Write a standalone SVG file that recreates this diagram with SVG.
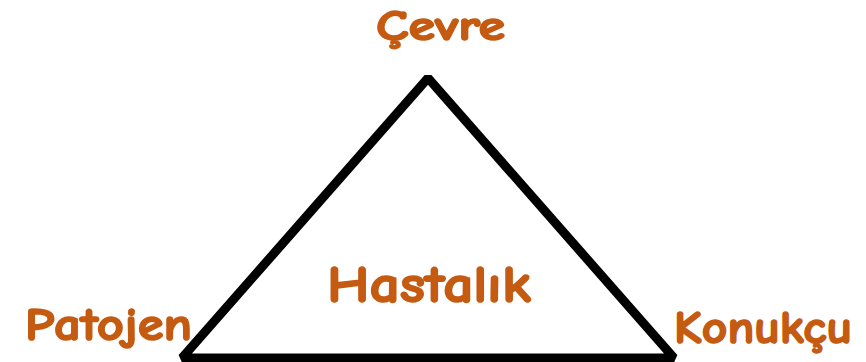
<svg xmlns="http://www.w3.org/2000/svg" width="866" height="362" viewBox="0 0 866 362">
<style>
.lbl{font-family:"Comic Neue","DejaVu Sans","Liberation Sans",sans-serif;font-weight:bold;fill:#C55A11;stroke:#C55A11;stroke-width:1.6;stroke-linejoin:round;}
.edge{fill:none;stroke:#000;stroke-width:9;stroke-linejoin:bevel;}
</style>
<rect width="866" height="362" fill="#fff"/>
<g id="connectors">
<path class="edge" d="M182,358 L428,78 L674,358 Z"/>
</g>
<g id="cevre"><text class="lbl" x="376" y="40" font-size="43" textLength="129" lengthAdjust="spacingAndGlyphs">Çevre</text></g>
<g id="patojen"><text class="lbl" x="25" y="340" font-size="46" textLength="167" lengthAdjust="spacingAndGlyphs">Patojen</text></g>
<g id="konukcu"><text class="lbl" x="674" y="343" font-size="46" textLength="178" lengthAdjust="spacingAndGlyphs">Konukçu</text></g>
<g id="hastalik"><text class="lbl" x="327" y="302" font-size="52" textLength="204" lengthAdjust="spacingAndGlyphs">Hastalık</text></g>
</svg>
